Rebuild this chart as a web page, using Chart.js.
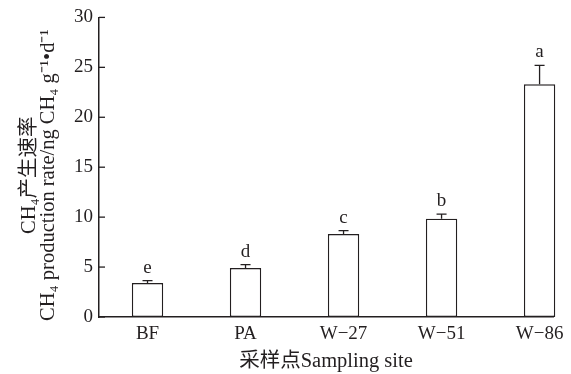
<!DOCTYPE html>
<html>
<head>
<meta charset="utf-8">
<script src="https://cdn.jsdelivr.net/npm/chart.js@4"></script>
<style>
  html, body { margin: 0; padding: 0; background: #fff; }
  #wrap { width: 571px; height: 374px; }
</style>
</head>
<body>
<div id="wrap"><canvas id="bar-chart"></canvas></div>
<script>
// data
const sites = ['BF', 'PA', 'W\u221227', 'W\u221251', 'W\u221286'];
const rates = [3.4, 4.9, 8.3, 9.85, 23.3];
const errors = [0.25, 0.35, 0.35, 0.45, 1.9];
const letters = ['e', 'd', 'c', 'b', 'a'];
const yTicks = [0, 5, 10, 15, 20, 25, 30];

const yTitle = ['CH\u2084\u4ea7\u751f\u901f\u7387', 'CH\u2084 production rate/ng CH\u2084 g\u207b\u00b9\u2022d\u207b\u00b9'];
const xTitle = '\u91c7\u6837\u70b9Sampling site';

const ink = '#231f20';
const serif = "'Liberation Serif', 'Noto Sans CJK SC', serif";

const extras = {
  id: 'extras',
  afterDatasetsDraw(chart) {
    const ctx = chart.ctx;
    const xs = chart.scales.x, ys = chart.scales.y;
    ctx.save();
    ctx.strokeStyle = ink;
    ctx.lineWidth = 1.3;
    // inward ticks on y axis
    yTicks.forEach(v => {
      const y = ys.getPixelForValue(v);
      ctx.beginPath();
      ctx.moveTo(xs.left, y);
      ctx.lineTo(xs.left + 6, y);
      ctx.stroke();
    });
    // error bars + letters
    ctx.fillStyle = ink;
    ctx.font = '19px ' + serif;
    ctx.textAlign = 'center';
    ctx.textBaseline = 'alphabetic';
    for (let i = 0; i < rates.length; i++) {
      const x = xs.getPixelForValue(i);
      const y0 = ys.getPixelForValue(rates[i]);
      const y1 = ys.getPixelForValue(rates[i] + errors[i]);
      ctx.beginPath();
      ctx.moveTo(x, y0);
      ctx.lineTo(x, y1);
      ctx.moveTo(x - 5, y1);
      ctx.lineTo(x + 5, y1);
      ctx.stroke();
      ctx.fillText(letters[i], x, y1 - 8);
    }
    // y title, two rotated lines
    ctx.translate(0, (ys.top + ys.bottom) / 2 + 8);
    ctx.rotate(-Math.PI / 2);
    ctx.textBaseline = 'middle';
    ctx.font = '20.5px ' + serif;
    ctx.fillText(yTitle[0], 0, 30);
    ctx.fillText(yTitle[1], 0, 49);
    ctx.restore();
  }
};

new Chart(document.getElementById('bar-chart'), {
  type: 'bar',
  data: {
    datasets: [{
      data: rates.map((v, i) => ({ x: i, y: v })),
      backgroundColor: '#ffffff',
      borderColor: ink,
      borderWidth: 1.4,
      borderSkipped: false,
      clip: false,
      categoryPercentage: 1,
      barPercentage: 0.32
    }]
  },
  options: {
    responsive: true,
    maintainAspectRatio: false,
    animation: false,
    layout: { padding: { left: 0, right: 18, top: 15, bottom: 0 } },
    plugins: { legend: { display: false }, tooltip: { enabled: false } },
    scales: {
      x: {
        type: 'linear',
        offset: false,
        min: -0.495,
        max: 4.137,
        afterBuildTicks: s => { s.ticks = sites.map((_, i) => ({ value: i })); },
        afterFit: s => { s.height = 57; },
        grid: { display: false, drawTicks: false, offset: false },
        border: { display: true, color: ink, width: 1.5 },
        ticks: {
          padding: 6,
          color: ink,
          font: { family: serif, size: 19 },
          callback: v => sites[v],
          maxRotation: 0,
          autoSkip: false
        },
        title: {
          display: true,
          text: xTitle,
          color: ink,
          font: { family: serif, size: 20.5 },
          padding: { top: 0, bottom: 0 }
        }
      },
      y: {
        min: 0,
        max: 30,
        afterFit: s => { s.width = 99; },
        grid: { display: false, drawTicks: false },
        border: { display: true, color: ink, width: 1.5 },
        ticks: {
          stepSize: 5,
          padding: 6,
          color: ink,
          font: { family: serif, size: 19 }
        }
      }
    }
  },
  plugins: [extras]
});
</script>
</body>
</html>
